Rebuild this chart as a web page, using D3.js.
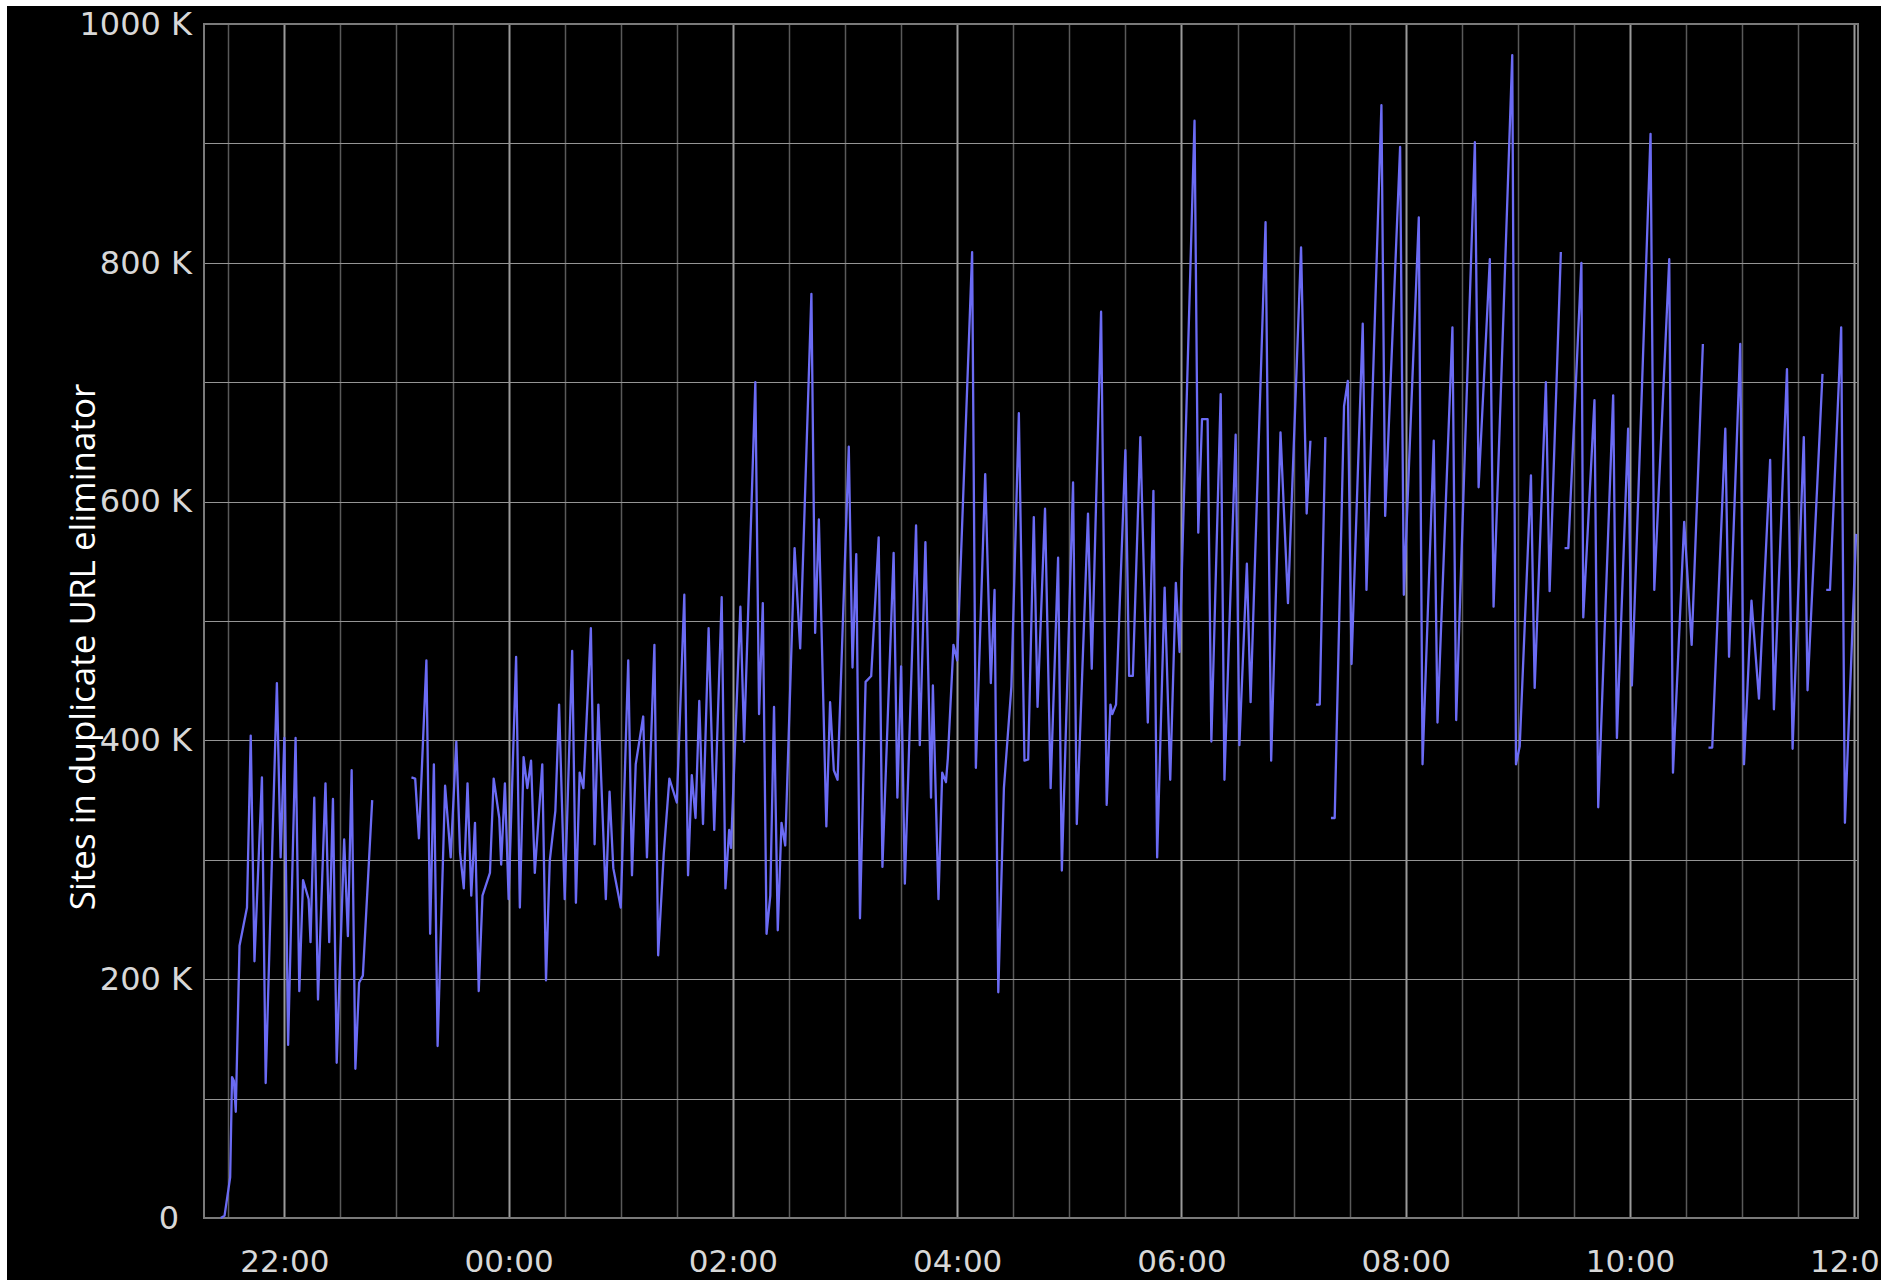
<!DOCTYPE html>
<html>
<head>
<meta charset="utf-8">
<script src="https://cdn.jsdelivr.net/npm/d3@7"></script>
<style>
  html, body { margin: 0; padding: 0; background: #ffffff; }
  #frame { position: absolute; left: 7px; top: 6px; width: 1874px; height: 1274px; background: #000; overflow: hidden; }
  svg { display: block; }
</style>
</head>
<body>
<div id="frame"></div>
<script>
// Sampled counter readings (thousands of sites); null marks a missing sample.
const times = [
  "21:26","21:28","21:31","21:32","21:33","21:34","21:36","21:40","21:42","21:44",
  "21:48","21:50","21:56","21:58","22:00","22:02","22:06","22:08","22:10","22:13",
  "22:14","22:16","22:18","22:22","22:24","22:26","22:28","22:32","22:34","22:36",
  "22:38","22:40","22:42","22:47","22:58",
  "23:08","23:10","23:12","23:16","23:18","23:20","23:22","23:26","23:29","23:32",
  "23:34","23:36","23:38","23:40","23:42","23:44","23:46","23:50","23:52","23:55",
  "23:56","23:58","00:00","00:04","00:06","00:08","00:10","00:12","00:14","00:18",
  "00:20","00:22","00:25","00:27","00:30","00:34","00:36","00:38","00:40","00:44",
  "00:46","00:48","00:52","00:54","00:56","01:00","01:04","01:06","01:08","01:12",
  "01:14","01:18","01:20","01:23","01:26","01:30","01:34","01:36","01:38","01:40",
  "01:42","01:44","01:47","01:50","01:54","01:56","01:58","01:59","02:04","02:06",
  "02:12","02:14","02:16","02:18","02:20","02:22","02:24","02:26","02:28","02:33",
  "02:36","02:42","02:44","02:46","02:50","02:52","02:54","02:56","03:02","03:04",
  "03:06","03:08","03:11","03:14","03:18","03:20","03:26","03:28","03:30","03:32",
  "03:38","03:40","03:43","03:46","03:47","03:50","03:52","03:54","03:55","03:58",
  "04:00","04:08","04:10","04:15","04:18","04:20","04:22","04:25","04:29","04:33",
  "04:36","04:38","04:41","04:43","04:47","04:50","04:54","04:56","05:02","05:04",
  "05:10","05:12","05:17","05:20","05:22","05:23","05:25","05:30","05:32","05:34",
  "05:38","05:42","05:45","05:47","05:51","05:54","05:57","05:59","06:07","06:09",
  "06:11","06:14","06:16","06:21","06:23","06:29","06:31","06:35","06:37","06:45",
  "06:48","06:53","06:57","07:04","07:07","07:09","07:10",
  "07:12","07:14","07:17","07:18",
  "07:20","07:22","07:27","07:29","07:31","07:37","07:39","07:47","07:49","07:57",
  "07:59","08:07","08:09","08:15","08:17","08:25","08:27","08:37","08:39","08:45",
  "08:47","08:57","08:59","09:01","09:07","09:09","09:15","09:17","09:23","09:24",
  "09:25","09:27","09:34","09:35","09:41","09:43","09:51","09:53","09:59","10:01",
  "10:11","10:13","10:21","10:23","10:29","10:33","10:39","10:40",
  "10:42","10:44","10:51","10:53","10:59","11:01","11:05","11:09","11:15","11:17",
  "11:24","11:27","11:33","11:35","11:43","11:44",
  "11:45","11:47","11:53","11:55","12:01"
];

const sitesK = [
  0,2,34,118,115,89,228,260,404,215,
  369,113,448,302,402,145,402,190,283,267,
  231,352,183,364,231,351,130,317,236,375,
  125,197,203,350,null,
  369,368,318,467,238,380,144,362,302,399,
  306,276,364,270,331,190,270,289,368,335,
  296,364,267,470,260,386,360,383,289,380,
  199,299,341,430,267,475,264,373,360,494,
  313,430,267,357,293,260,467,287,380,420,
  302,480,220,305,368,348,522,287,371,335,
  433,330,494,325,520,276,325,310,512,399,
  700,422,515,238,270,428,241,331,312,561,
  477,774,490,585,328,432,375,367,646,461,
  556,251,449,454,570,294,557,352,462,280,
  580,396,566,352,446,267,373,365,385,480,
  467,809,377,623,448,526,189,360,445,674,
  383,384,587,428,594,360,553,291,616,330,
  590,460,759,346,430,422,430,643,454,454,
  654,415,609,302,528,367,532,474,919,574,
  669,669,399,690,367,656,396,548,432,834,
  383,658,515,813,590,651,null,
  430,430,654,null,
  335,335,680,701,464,749,526,932,588,897,
  522,838,380,651,415,746,417,901,612,803,
  512,974,380,395,622,444,700,525,809,null,
  561,561,800,503,685,344,689,402,661,446,
  908,526,803,373,583,480,732,null,
  394,394,661,470,732,380,517,435,635,426,
  711,393,654,442,707,null,
  526,526,746,331,573
];

const yTicks = [0, 200000, 400000, 600000, 800000, 1000000];
const yGrid = d3.range(0, 1000001, 100000);
const axisTitle = "Sites in duplicate URL eliminator";

// Evening readings belong to the first day, morning ones to the next.
const parseClock = d3.timeParse("%Y-%m-%d %H:%M");
function toDate(hm) {
  const h = +hm.slice(0, 2);
  return parseClock((h >= 18 ? "2009-05-11 " : "2009-05-12 ") + hm);
}
const data = times.map((t, i) => ({ t: toDate(t), v: sitesK[i] == null ? null : sitesK[i] * 1000 }));

const plot = { left: 204, right: 1858, top: 24, bottom: 1218 };

const svg = d3.select("#frame").append("svg")
  .attr("width", 1874).attr("height", 1274);
const g = svg.append("g").attr("transform", "translate(-7,-6)");

const x = d3.scaleTime()
  .domain([toDate("21:17"), toDate("12:02")])
  .range([plot.left, plot.right]);
const y = d3.scaleLinear()
  .domain([0, 1000000])
  .range([plot.bottom, plot.top]);

const isMajor = d => d.getHours() % 2 === 0 && d.getMinutes() === 0;

// Vertical grid: every half hour, brighter every two hours.
const halfHours = d3.timeMinute.every(30).range(x.domain()[0], x.domain()[1]);
g.append("g").selectAll("line").data(halfHours).join("line")
  .attr("x1", d => Math.round(x(d)) + 0.5).attr("x2", d => Math.round(x(d)) + 0.5)
  .attr("y1", plot.top).attr("y2", plot.bottom)
  .attr("stroke", d => isMajor(d) ? "#9a9a9a" : "#5a5a5a")
  .attr("stroke-width", d => isMajor(d) ? 2 : 1.5);

// Horizontal grid every 100 K.
g.append("g").selectAll("line").data(yGrid).join("line")
  .attr("x1", plot.left).attr("x2", plot.right)
  .attr("y1", d => Math.round(y(d)) + 0.5).attr("y2", d => Math.round(y(d)) + 0.5)
  .attr("stroke", "#959595").attr("stroke-width", 1.2);

// Plot frame.
g.append("rect")
  .attr("x", plot.left).attr("y", plot.top)
  .attr("width", plot.right - plot.left).attr("height", plot.bottom - plot.top)
  .attr("fill", "none").attr("stroke", "#7a7a7a").attr("stroke-width", 2);

// Y axis labels.
const yAxis = d3.axisLeft(y).tickValues(yTicks)
  .tickFormat(d => d === 0 ? "0" : (d / 1000) + " K")
  .tickSize(0).tickPadding(12);
g.append("g").attr("transform", `translate(${plot.left},0)`).call(yAxis)
  .call(s => s.select(".domain").remove())
  .selectAll("text")
  .attr("font-family", "DejaVu Sans").attr("font-size", 32).attr("fill", "#d8d8d8")
  .attr("dx", d => d === 0 ? -13 : 0);

// X axis labels every two hours.
const xAxis = d3.axisBottom(x).ticks(d3.timeHour.every(2))
  .tickFormat(d3.timeFormat("%H:%M")).tickSize(0).tickPadding(32);
g.append("g").attr("transform", `translate(0,${plot.bottom})`).call(xAxis)
  .call(s => s.select(".domain").remove())
  .selectAll("text")
  .attr("font-family", "DejaVu Sans").attr("font-size", 31).attr("fill", "#d8d8d8");

// Axis title.
g.append("text")
  .attr("transform", "translate(95,647) rotate(-90)")
  .attr("text-anchor", "middle")
  .attr("font-family", "Open Sans").attr("font-size", 35)
  .attr("fill", "#ffffff")
  .text(axisTitle);

// The series.
const line = d3.line()
  .defined(d => d.v != null)
  .x(d => x(d.t)).y(d => y(d.v));
g.append("path").datum(data)
  .attr("d", line)
  .attr("fill", "none")
  .attr("stroke", "#6b6bf4")
  .attr("stroke-width", 2.3)
  .attr("stroke-linejoin", "round");
</script>
</body>
</html>
